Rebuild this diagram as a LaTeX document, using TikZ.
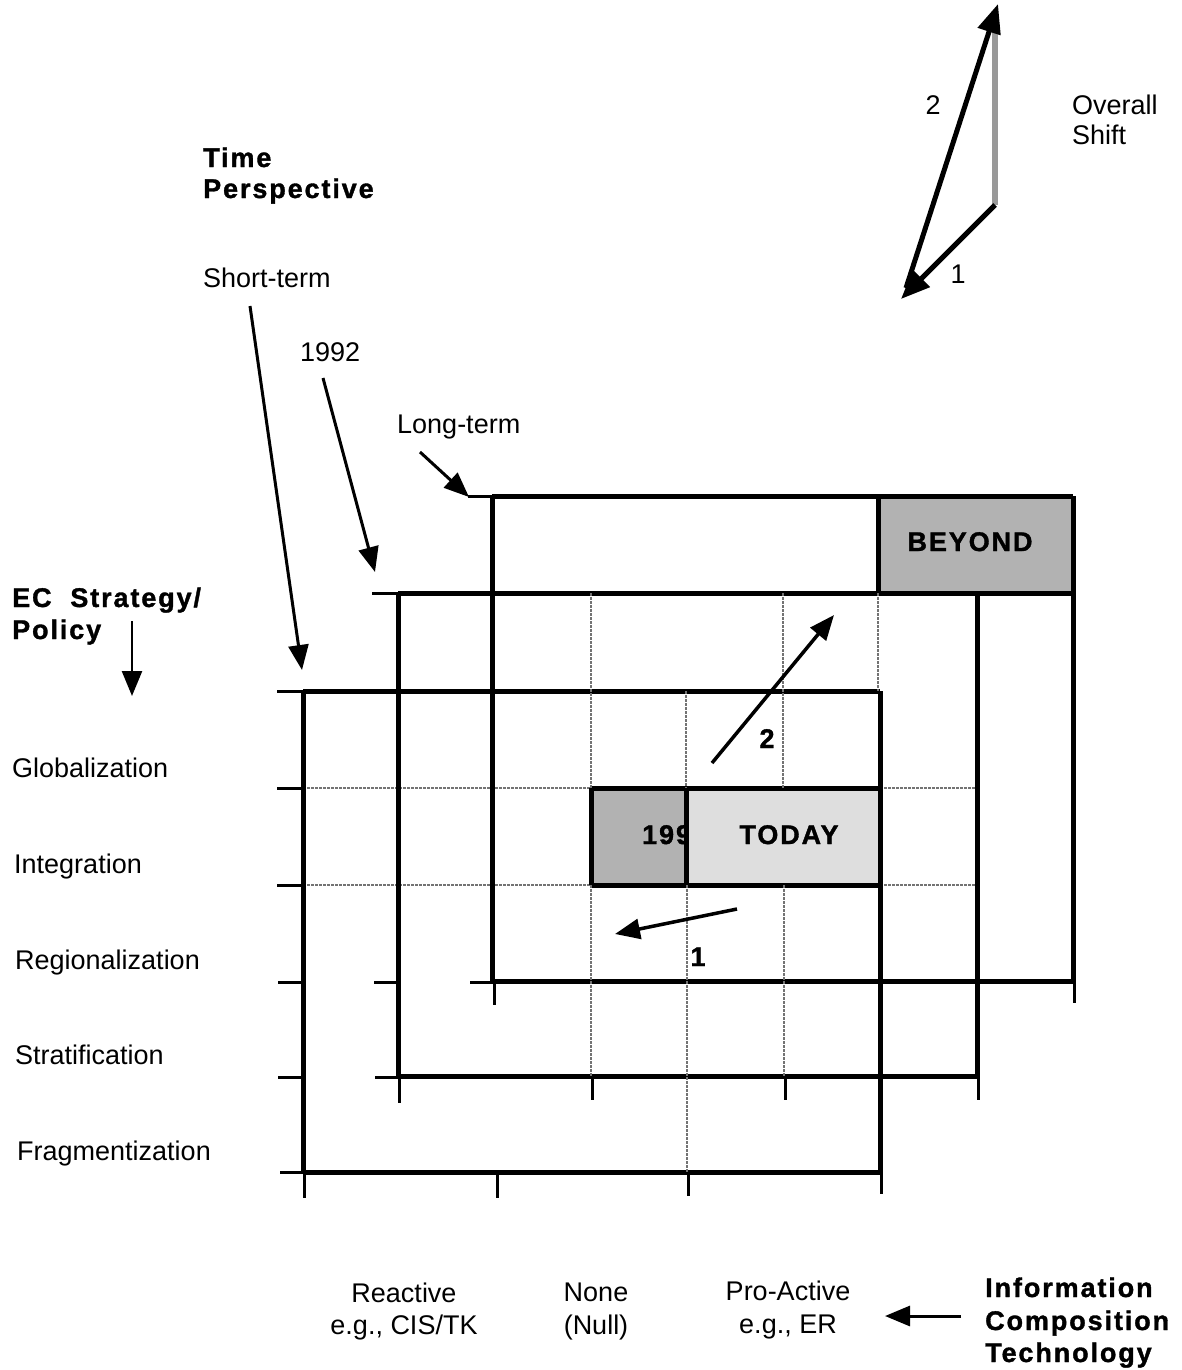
\documentclass[tikz,border=0pt]{standalone}
\usepackage{fontspec}
\setmainfont{Liberation Sans}
\newfontfamily\spb{Liberation Sans Bold}[LetterSpace=7,FakeBold=1.3]
\usetikzlibrary{arrows.meta}
\begin{document}
\begin{tikzpicture}[x=1pt,y=-1pt,
  lbl/.style={inner sep=0pt,font=\fontsize{27}{32}\selectfont},
  blbl/.style={inner sep=0pt,font=\fontsize{27}{32}\spb},
  frame/.style={line width=5pt},
  tickln/.style={line width=3pt},
  dotln/.style={line width=2.4pt,black!55,dash pattern=on 3pt off 1pt},
  arr/.style={line width=3.5pt,-{Triangle[length=25pt,width=20pt]}},
  bigarr/.style={line width=5pt,-{Triangle[length=29pt,width=23pt]}},
  darkshade/.style={fill=black!30},
  lightshade/.style={fill=black!13}]
\useasboundingbox (0,0) rectangle (1181,1370);

% shaded boxes
\fill[darkshade] (878,496) rectangle (1073,592);
\fill[darkshade] (591,788) rectangle (686,885);
\fill[lightshade] (686,788) rectangle (880,885);
\begin{scope}
\clip (591,788) rectangle (684,885);
\node[blbl,anchor=base west] (t1992) at (642,844) {1992};
\end{scope}
\node[blbl,anchor=base] (today) at (789,844) {TODAY};
\node[blbl,anchor=base] (beyond) at (970,551) {BEYOND};

% horizontal lines
\draw[tickln] (468,496) -- (492,496);
\draw[frame] (492,496) -- (1073,496);
\draw[tickln] (372,593) -- (398,593);
\draw[frame] (398,593) -- (1073,593);
\draw[tickln] (277,691) -- (303,691);
\draw[frame] (303,691) -- (880,691);
\foreach \yy in {788,885}{
  \draw[tickln] (277,\yy) -- (303,\yy);
  \draw[dotln] (303,\yy) -- (591,\yy);
  \draw[frame] (591,\yy) -- (880,\yy);
  \draw[dotln] (880,\yy) -- (977,\yy);
}
\draw[tickln] (278,982) -- (303,982);
\draw[tickln] (374,982) -- (398,982);
\draw[tickln] (470,982) -- (492,982);
\draw[frame] (492,981) -- (1073,981);
\draw[tickln] (278,1077) -- (303,1077);
\draw[tickln] (375,1077) -- (398,1077);
\draw[frame] (398,1076) -- (977,1076);
\draw[tickln] (280,1172) -- (303,1172);
\draw[frame] (303,1172) -- (880,1172);

% vertical lines
\draw[frame] (303,691) -- (303,1172);
\draw[tickln] (304,1172) -- (304,1198);
\draw[frame] (398,593) -- (398,1076);
\draw[tickln] (399,1076) -- (399,1103);
\draw[frame] (492,496) -- (492,981);
\draw[tickln] (494,981) -- (494,1005);
\draw[tickln] (497,1172) -- (497,1198);
\draw[dotln] (591,593) -- (591,788);
\draw[frame] (591,788) -- (591,885);
\draw[dotln] (591,885) -- (591,1076);
\draw[tickln] (592,1076) -- (592,1100);
\draw[dotln] (686,691) -- (686,788);
\draw[frame] (686,788) -- (686,885);
\draw[dotln] (687,885) -- (687,1172);
\draw[tickln] (688,1172) -- (688,1196);
\draw[dotln] (783,593) -- (783,788);
\draw[dotln] (784,885) -- (784,1076);
\draw[tickln] (785,1076) -- (785,1100);
\draw[frame] (878,496) -- (878,593);
\draw[dotln] (878,593) -- (878,691);
\draw[frame] (880,691) -- (880,1172);
\draw[tickln] (881,1172) -- (881,1194);
\draw[frame] (977,593) -- (977,1076);
\draw[tickln] (978,1076) -- (978,1100);
\draw[frame] (1073,496) -- (1073,981);
\draw[tickln] (1074,981) -- (1074,1003);

% arrows in the grid
\coordinate (a2s) at (712,763);
\coordinate (a2e) at (834,615);
\draw[arr] (a2s) -- (a2e);
\node[blbl,anchor=base] (n2) at (767,748) {2};
\coordinate (a1s) at (737,909);
\coordinate (a1e) at (615,934);
\draw[arr] (a1s) -- (a1e);
\node[blbl,anchor=base] (n1) at (698,966) {1};

% overall shift
\coordinate (sA) at (995,205);
\coordinate (sB) at (995,26);
\coordinate (sC) at (901,299);
\coordinate (sD) at (906,288);
\coordinate (sE) at (998,4);
\draw[line width=6pt,black!40] (sA) -- (sB);
\draw[bigarr] (sA) -- (sC);
\draw[bigarr] (sD) -- (sE);
\node[lbl,anchor=base] (o2) at (933,115) {2};
\node[lbl,anchor=base] (o1) at (958,283) {1};
\node[lbl,anchor=base west] (ov1) at (1072,114) {Overall};
\node[lbl,anchor=base west] (ov2) at (1072,145) {Shift};

% time perspective
\node[blbl,anchor=base west] (tp1) at (203,167) {Time};
\node[blbl,anchor=base west] (tp2) at (203,198) {Perspective};
\node[lbl,anchor=base west] (st) at (203,287) {Short-term};
\node[lbl,anchor=base west] (yr) at (300,361) {1992};
\node[lbl,anchor=base west] (lt) at (397,433) {Long-term};
\coordinate (stS) at (250,306);
\coordinate (stE) at (302,670);
\draw[arr,line width=3pt] (stS) -- (stE);
\coordinate (yrS) at (323,378);
\coordinate (yrE) at (375,572);
\draw[arr,line width=3pt] (yrS) -- (yrE);
\coordinate (ltS) at (420,452);
\coordinate (ltE) at (469,497);
\draw[arr,line width=3pt] (ltS) -- (ltE);

% EC strategy
\node[blbl,anchor=base west] (ec1) at (12,607) {EC\ \ Strategy/};
\node[blbl,anchor=base west] (ec2) at (12,639) {Policy};
\coordinate (ecS) at (132,621);
\coordinate (ecE) at (132,696);
\draw[arr,line width=2.5pt] (ecS) -- (ecE);
\node[lbl,anchor=base west] (r1) at (12,777) {Globalization};
\node[lbl,anchor=base west] (r2) at (14,873) {Integration};
\node[lbl,anchor=base west] (r3) at (15,969) {Regionalization};
\node[lbl,anchor=base west] (r4) at (15,1064) {Stratification};
\node[lbl,anchor=base west] (r5) at (17,1160) {Fragmentization};

% bottom labels
\node[lbl,anchor=base] (c1a) at (404,1302) {Reactive};
\node[lbl,anchor=base] (c1b) at (404,1334) {e.g., CIS/TK};
\node[lbl,anchor=base] (c2a) at (596,1301) {None};
\node[lbl,anchor=base] (c2b) at (596,1334) {(Null)};
\node[lbl,anchor=base] (c3a) at (788,1300) {Pro-Active};
\node[lbl,anchor=base] (c3b) at (788,1333) {e.g., ER};
\node[blbl,anchor=base west] (ict1) at (985,1297) {Information};
\node[blbl,anchor=base west] (ict2) at (985,1330) {Composition};
\node[blbl,anchor=base west] (ict3) at (985,1362) {Technology};
\coordinate (icS) at (961,1316);
\coordinate (icE) at (885,1316);
\draw[arr,line width=3pt] (icS) -- (icE);
\end{tikzpicture}
\end{document}
